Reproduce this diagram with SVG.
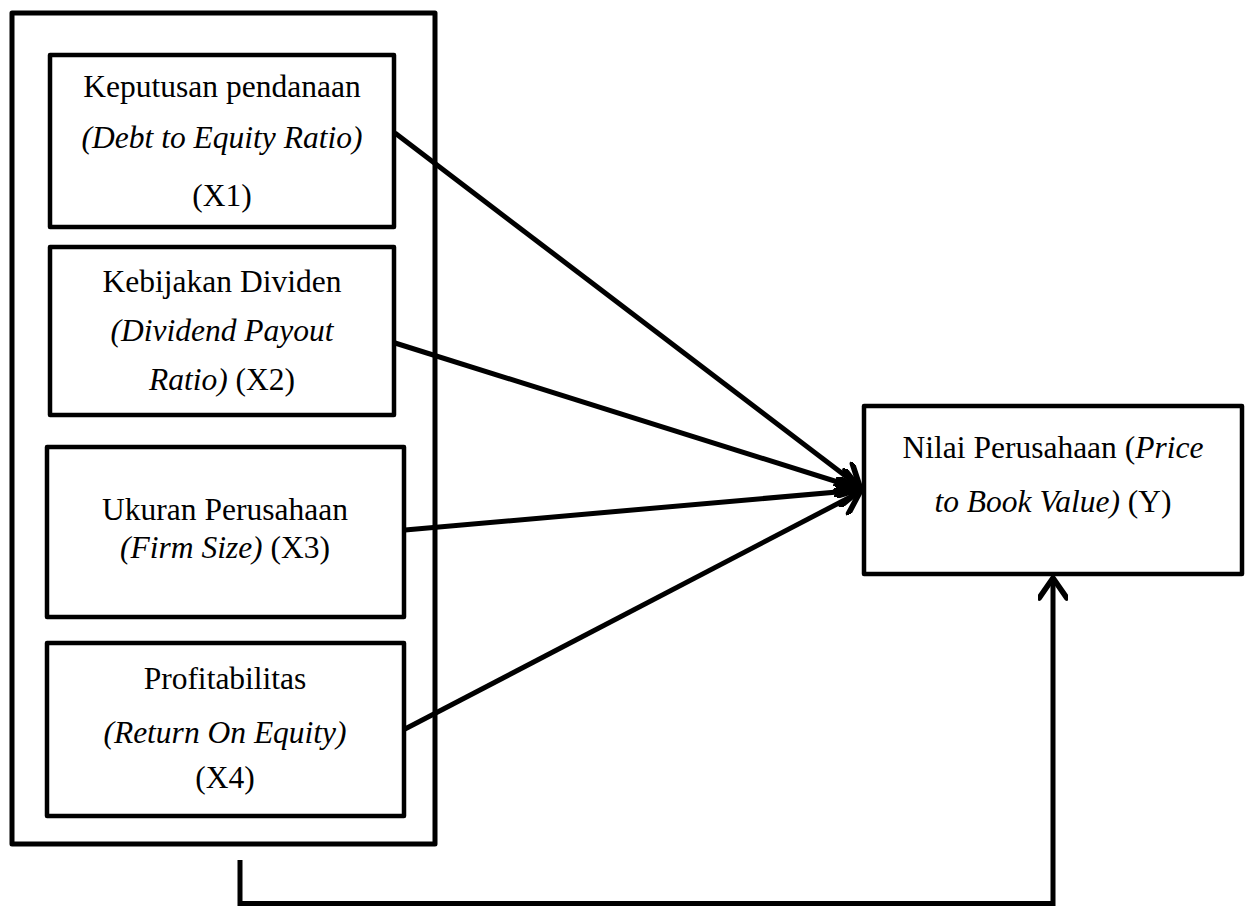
<svg xmlns="http://www.w3.org/2000/svg" width="1253" height="907" viewBox="0 0 1253 907">
<style>
.box{fill:#fff;stroke:#000;stroke-width:4.5;stroke-linejoin:round}
.outer{fill:#fff;stroke:#000;stroke-width:5;stroke-linejoin:round}
.t{font-family:"Liberation Serif","Times New Roman",serif;font-size:31.5px;fill:#000;text-anchor:middle}
.i{font-style:italic}
.c{fill:none;stroke:#000;stroke-width:5;stroke-linejoin:miter}
</style>
<defs>
<marker id="ah" markerUnits="userSpaceOnUse" markerWidth="30" markerHeight="30" refX="20" refY="12" orient="auto" viewBox="0 0 24 24">
<path d="M4,1 L20,12 L4,23" fill="none" stroke="#000" stroke-width="4.5" stroke-linecap="round" stroke-linejoin="round"/>
</marker>
</defs>
<g id="outer">
<rect class="outer" x="12" y="13" width="423" height="831"/>
</g>
<g id="x1">
<rect class="box" x="50" y="55" width="344" height="172"/>
<text class="t" x="222" y="97">Keputusan pendanaan</text>
<text class="t i" x="222" y="148">(Debt to Equity Ratio)</text>
<text class="t" x="222" y="206">(X1)</text>
</g>
<g id="x2">
<rect class="box" x="50" y="247" width="344" height="168"/>
<text class="t" x="222" y="292">Kebijakan Dividen</text>
<text class="t i" x="222" y="341">(Dividend Payout</text>
<text class="t" x="222" y="390"><tspan class="i">Ratio)</tspan> (X2)</text>
</g>
<g id="x3">
<rect class="box" x="47" y="447" width="357" height="170"/>
<text class="t" x="225" y="520">Ukuran Perusahaan</text>
<text class="t" x="225" y="558"><tspan class="i">(Firm Size)</tspan> (X3)</text>
</g>
<g id="x4">
<rect class="box" x="47" y="643" width="357" height="173"/>
<text class="t" x="225" y="689">Profitabilitas</text>
<text class="t i" x="225" y="743">(Return On Equity)</text>
<text class="t" x="225" y="788">(X4)</text>
</g>
<g id="y">
<rect class="box" x="864" y="406" width="378" height="168"/>
<text class="t" x="1053" y="458">Nilai Perusahaan (<tspan class="i">Price</tspan></text>
<text class="t" x="1053" y="512"><tspan class="i">to Book Value)</tspan> (Y)</text>
</g>
<g id="connectors">
<line class="c" x1="395" y1="133" x2="860" y2="487" marker-end="url(#ah)"/>
<line class="c" x1="395" y1="343" x2="860" y2="489" marker-end="url(#ah)"/>
<line class="c" x1="405" y1="530" x2="860" y2="490" marker-end="url(#ah)"/>
<line class="c" x1="405" y1="729" x2="860" y2="492" marker-end="url(#ah)"/>
<path class="c" d="M240,860 V903.5 H1053 V578" marker-end="url(#ah)"/>
</g>
</svg>
